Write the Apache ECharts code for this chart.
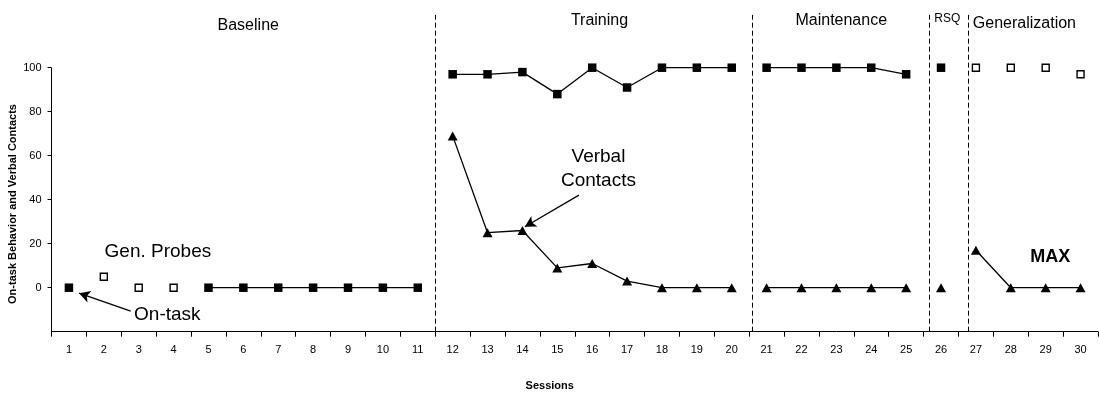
<!DOCTYPE html>
<html><head><meta charset="utf-8">
<script src="https://cdn.jsdelivr.net/npm/echarts@6/dist/echarts.min.js"></script>
<style>html,body{margin:0;padding:0;background:#fff}#c{width:1099px;height:393px}</style>
</head><body><div id="c"></div>
<script>
// ---- data ----
const sessions = [1,2,3,4,5,6,7,8,9,10,11,12,13,14,15,16,17,18,19,20,21,22,23,24,25,26,27,28,29,30];
const onTask   = [0,null,null,null,0,0,0,0,0,0,0, 97,97,98,88,100,91,100,100,100, 100,100,100,100,97, 100, null,null,null,null];
const genProbes= [null,5,0,0,null,null,null,null,null,null,null, null,null,null,null,null,null,null,null,null, null,null,null,null,null, null, 100,100,100,97];
const verbal   = [null,null,null,null,null,null,null,null,null,null,null, 69,25,26,9,11,3,0,0,0, 0,0,0,0,0, 0, 17,0,0,0];
const phaseNames = ['Baseline','Training','Maintenance','RSQ','Generalization'];
const phaseFirst = [1,12,21,26,27];
const phaseLast  = [11,20,25,26,30];
const phaseLines = [11.5,20.6,25.66,26.79];
const phaseLabelX = [6.14,16.21,23.14,26.18,28.39];
const phaseLabelY = [119.2,121.2,121.2,122.2,120.2];
const yTicks = [0,20,40,60,80,100];
const xTickBounds = [0.5,1.5,2.5,3.5,4.5,5.5,6.5,7.5,8.5,9.5,10.5,11.5,12.5,13.5,14.5,15.5,16.5,17.5,18.5,19.5,20.5,21.5,22.5,23.5,24.5,25.5,26.5,27.5,28.5,29.5,30.5];
const noteTexts = ['Gen. Probes','On-task','Verbal\nContacts','MAX'];
const noteX = [3.55,3.82,16.18,29.13];
const noteY = [16.5,-12.4,54,13.8];
const arrowFrom = [[2.77,-10.6],[15.62,42.1]];
const arrowTo   = [[1.29,-2.5],[14.07,27.7]];
const yMin = -20, yMax = 125, yAxisTop = 100, dividerTop = 124;
const xMin = 0.5, xMax = 30.5;

// ---- chart ----
const FONT = 'Liberation Sans, Arial, sans-serif';
const chart = echarts.init(document.getElementById('c'));
const series = [];
const inPhase = (i, s) => s >= phaseFirst[i] && s <= phaseLast[i];
const lineStyle = {color:'#000', width:1.3};
phaseNames.forEach((p, i) => {
  const ps = sessions.filter(s => inPhase(i, s));
  series.push({
    type:'line', name:'On-task '+p, symbol:'rect', symbolSize:8.5, showAllSymbol:true,
    connectNulls:false, lineStyle, itemStyle:{color:'#000'},
    data: ps.map(s => [s, onTask[s-1] == null ? '-' : onTask[s-1]]), z:3
  });
  series.push({
    type:'line', name:'Verbal '+p, symbol:'triangle', symbolSize:[10,9], showAllSymbol:true,
    connectNulls:false, lineStyle, itemStyle:{color:'#000'},
    data: ps.map(s => [s, verbal[s-1] == null ? '-' : verbal[s-1]]), z:3
  });
});
series.push({
  type:'scatter', name:'Gen. Probes', symbol:'rect', symbolSize:7,
  itemStyle:{color:'#fff', borderColor:'#000', borderWidth:1.4, opacity:1},
  data: sessions.filter(s => genProbes[s-1] != null).map(s => [s, genProbes[s-1]]), z:3
});
// annotations (texts + lines)
const baseLabel = {show:true, position:'inside', color:'#000', opacity:1, textBorderWidth:0, fontFamily:FONT};
const texts = [];
phaseNames.forEach((p,i)=>texts.push({value:[phaseLabelX[i], phaseLabelY[i]], name:p,
  label:Object.assign({}, baseLabel, {fontSize: p === 'RSQ' ? 12 : 16})}));
noteTexts.forEach((t,i)=>texts.push({value:[noteX[i], noteY[i]], name:t,
  label:Object.assign({}, baseLabel, t === 'MAX' ? {fontSize:18, fontWeight:'bold'} : {fontSize:19, lineHeight:23.5})}));
const mlData = [];
phaseLines.forEach(x => mlData.push([{coord:[x, yMin], lineStyle:{type:[5,3], width:1, color:'#000'}}, {coord:[x, dividerTop]}]));
mlData.push([{coord:[xMin, yMin], lineStyle:{type:'solid', width:1, color:'#000'}}, {coord:[xMin, yAxisTop]}]);
arrowFrom.forEach((f,i)=>mlData.push([{coord:f, symbol:'none', lineStyle:{type:'solid', width:1.3, color:'#000'}}, {coord:arrowTo[i], symbol:'arrow', symbolSize:[9,11]}]));
series.push({
  type:'scatter', name:'notes', symbolSize:0, silent:true, z:5,
  itemStyle:{opacity:1},
  label:Object.assign({}, baseLabel, {formatter:p=>p.name}),
  emphasis:{disabled:true},
  data: texts,
  markLine:{silent:true, symbol:['none','none'], animation:false, label:{show:false},
    lineStyle:{color:'#000', opacity:1}, emphasis:{disabled:true}, data: mlData}
});

chart.setOption({
  animation:false,
  textStyle:{fontFamily:FONT, color:'#000'},
  grid:{left:51.5, right:1, top:12.7, bottom:61.3, containLabel:false, outerBoundsMode:'none'},
  xAxis:{type:'value', min:xMin, max:xMax,
    name:'Sessions', nameLocation:'middle', nameGap:49,
    nameTextStyle:{fontWeight:'bold', fontSize:11, color:'#000', fontFamily:FONT, padding:[0,50,0,0]},
    axisLine:{show:true, onZero:false, lineStyle:{color:'#000', width:1}},
    axisTick:{show:true, length:5, lineStyle:{color:'#000'}, customValues: xTickBounds},
    axisLabel:{color:'#000', fontSize:11, margin:13, fontFamily:FONT, customValues: sessions},
    splitLine:{show:false}},
  yAxis:{type:'value', min:yMin, max:yMax,
    axisLine:{show:false, onZero:false},
    axisTick:{show:true, length:4, lineStyle:{color:'#000'}, customValues: yTicks},
    axisLabel:{color:'#000', fontSize:11, margin:10, fontFamily:FONT, customValues: yTicks},
    splitLine:{show:false}},
  graphic:[{type:'text', x:13.3, y:204, rotation:Math.PI/2,
    style:{text:'On-task Behavior and Verbal Contacts', font:'bold 11px '+FONT, fill:'#000', align:'center', verticalAlign:'middle'}}],
  series
});
</script></body></html>
